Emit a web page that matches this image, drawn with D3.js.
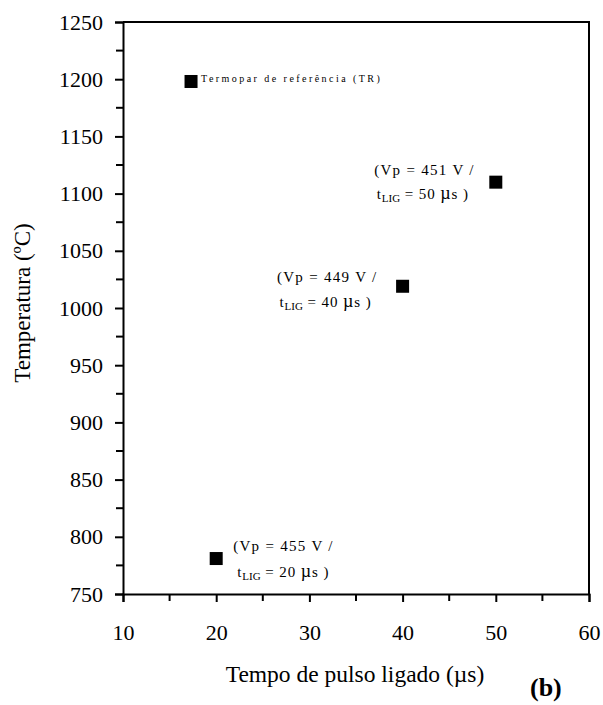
<!DOCTYPE html>
<html>
<head>
<meta charset="utf-8">
<script src="https://cdn.jsdelivr.net/npm/d3@7"></script>
<style>
  body { margin: 0; background: #fff; }
  svg text { font-family: "Liberation Serif", "Times New Roman", serif; fill: #000; }
</style>
</head>
<body>
<div id="chart"></div>
<script>
// Data
const pulseTime = [17.3, 50, 40, 20];          // µs
const temperature = [1198, 1110, 1019, 781];    // ºC
const voltage = [null, 451, 449, 455];          // V
const xTicks = [10, 20, 30, 40, 50, 60];
const yTicks = [750, 800, 850, 900, 950, 1000, 1050, 1100, 1150, 1200, 1250];

const serif = "'Liberation Serif', 'Times New Roman', serif";

// Chart dimensions
const margin = { top: 22, right: 14, bottom: 111, left: 123 };
const width = 603 - margin.left - margin.right;
const height = 705 - margin.top - margin.bottom;

const svg = d3.select("#chart").append("svg")
  .attr("width", 603)
  .attr("height", 705);

const g = svg.append("g")
  .attr("transform", `translate(${margin.left},${margin.top})`);

const x = d3.scaleLinear().domain([10, 60]).range([0, width]);
const y = d3.scaleLinear().domain([750, 1250]).range([height, 0]);

// Frame (top and right)
g.append("path")
  .attr("d", `M0,0H${width}V${height}`)
  .attr("fill", "none")
  .attr("stroke", "#000")
  .attr("stroke-width", 2);

// Minor ticks
const xMinor = d3.range(15, 60, 10);
const yMinor = d3.range(775, 1250, 50);

const xAxis = g.append("g")
  .attr("transform", `translate(0,${height})`)
  .call(d3.axisBottom(x).tickValues(xTicks).tickSize(8).tickPadding(22).tickFormat(d3.format("d")));
xAxis.append("g").selectAll("line")
  .data(xMinor).join("line")
  .attr("x1", d => x(d)).attr("x2", d => x(d))
  .attr("y1", 0).attr("y2", 7)
  .attr("stroke", "#000").attr("stroke-width", 2);

const yAxis = g.append("g")
  .call(d3.axisLeft(y).tickValues(yTicks).tickSize(8).tickPadding(12).tickFormat(d3.format("d")));
yAxis.append("g").selectAll("line")
  .data(yMinor).join("line")
  .attr("x1", 0).attr("x2", -7)
  .attr("y1", d => y(d)).attr("y2", d => y(d))
  .attr("stroke", "#000").attr("stroke-width", 2);

[xAxis, yAxis].forEach(a => {
  a.select(".domain").attr("stroke", "#000").attr("stroke-width", 2);
  a.selectAll(".tick line").attr("stroke", "#000").attr("stroke-width", 2);
  a.selectAll(".tick text")
    .style("font-family", serif)
    .style("font-size", "22px");
});

// Axis titles
svg.append("text")
  .attr("x", 355).attr("y", 682)
  .attr("text-anchor", "middle")
  .style("font-size", "23.5px")
  .text("Tempo de pulso ligado (µs)");

svg.append("text")
  .attr("transform", "translate(30,303) rotate(-90)")
  .attr("text-anchor", "middle")
  .style("font-size", "23px")
  .text("Temperatura (ºC)");

svg.append("text")
  .attr("x", 530).attr("y", 696)
  .style("font-size", "26px")
  .style("font-weight", "bold")
  .text("(b)");

// Markers
const pts = pulseTime.map((t, i) => ({ t, temp: temperature[i], v: voltage[i] }));
const sq = 13;
g.selectAll("rect.pt")
  .data(pts).join("rect")
  .attr("class", "pt")
  .attr("x", d => x(d.t) - sq / 2)
  .attr("y", d => y(d.temp) - sq / 2)
  .attr("width", sq).attr("height", sq)
  .attr("fill", "#000");

// Reference thermocouple label
g.append("text")
  .attr("x", x(pulseTime[0]) + 10)
  .attr("y", y(temperature[0]) + 1)
  .style("font-size", "10px")
  .attr("letter-spacing", 2.45)
  .text("Termopar de referência (TR)");

// Annotations: side and vertical offset for each labelled point
const labelPlace = [null,
  { anchor: "end", dx: -21, dy1: -7, dy2: 17 },
  { anchor: "end", dx: -25, dy1: -4, dy2: 21 },
  { anchor: "start", dx: 17, dy1: -8, dy2: 18 }];

pts.forEach((d, i) => {
  if (d.v === null) return;
  const p = labelPlace[i];
  const px = x(d.t) + p.dx, py = y(d.temp);
  g.append("text")
    .attr("x", px).attr("y", py + p.dy1)
    .attr("text-anchor", p.anchor)
    .style("font-size", "15px")
    .attr("letter-spacing", 1.3)
    .text(`(Vp = ${d.v} V /`);
  const t2 = g.append("text")
    .attr("x", px - (p.anchor === "end" ? 6 : -4)).attr("y", py + p.dy2)
    .attr("text-anchor", p.anchor)
    .style("font-size", "15px")
    .attr("letter-spacing", 0.9);
  t2.append("tspan").text("t");
  t2.append("tspan").style("font-size", "11px").attr("dy", 3).attr("letter-spacing", 0).text("LIG");
  t2.append("tspan").attr("dy", -3).text(` = ${Math.round(d.t)} `);
  t2.append("tspan").style("font-size", "18px").text("µ");
  t2.append("tspan").text("s )");
});
</script>
</body>
</html>
